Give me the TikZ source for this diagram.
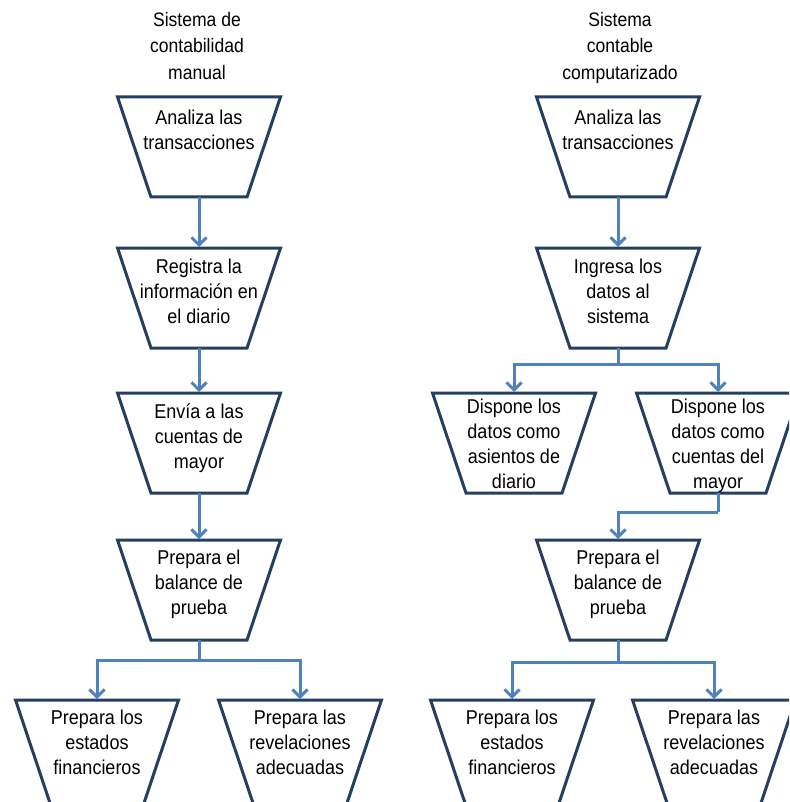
\documentclass[tikz,border=0pt]{standalone}
\usepackage{fontspec}
\setmainfont{Liberation Sans}[FakeStretch=0.9]
\usetikzlibrary{arrows.meta}
\definecolor{boxedge}{HTML}{243F60}
\definecolor{flow}{HTML}{4F81BD}
\tikzset{
  trapshape/.style={rectangle, minimum width=163pt, inner sep=0pt, outer sep=0pt},
  trapline/.style={draw=boxedge, line width=3pt, line join=miter, fill=white},
  traptext/.style={align=center, inner sep=0pt, anchor=north,
    font=\fontsize{20}{25}\selectfont},
  heading/.style={align=center, inner sep=0pt, anchor=north,
    font=\fontsize{19.5}{26.5}\selectfont},
  link/.style={draw=flow, line width=3pt},
  conn/.style={link, shorten >=1pt, -{Straight Barb[length=7.5pt,width=15pt]}},
}
% \trapbox[height]{name}{centre x}{top y}{first line drop}{text}
\newcommand\trapbox[6][100]{%
  \node[trapshape, minimum height=#1pt] (#2) at (#3,#4+#1/2) {};
  \draw[trapline] (#2.north west) -- (#2.north east)
    -- ([xshift={-0.335*#1}]#2.south east)
    -- ([xshift={0.335*#1}]#2.south west) -- cycle;
  \node[traptext] (#2-t) at ([yshift={-#5}]#2.north) {#6};
}
\begin{document}
\begin{tikzpicture}[x=1pt, y=-1pt]
  \useasboundingbox (0,0) rectangle (789,802);
  \fill[white] (0,0) rectangle (789,802);
  \clip (0,0) rectangle (789,802);

  % column headings
  \node[heading] (hl) at (197,12) {Sistema de\\contabilidad\\manual};
  \node[heading] (hr) at (620,12) {Sistema\\contable\\computarizado};

  % manual system
  \trapbox{L1}{199}{97}{13}{Analiza las\\transacciones}
  \trapbox{L2}{199}{248}{11}{Registra la\\información en\\el diario}
  \trapbox{L3}{199}{393}{11}{Envía a las\\cuentas de\\mayor}
  \trapbox{L4}{199}{540}{10}{Prepara el\\balance de\\prueba}
  \trapbox[106]{L5a}{97}{700}{10}{Prepara los\\estados\\financieros}
  \trapbox[106]{L5b}{300}{700}{10}{Prepara las\\revelaciones\\adecuadas}

  % computerised system
  \trapbox{R1}{618}{97}{13}{Analiza las\\transacciones}
  \trapbox{R2}{618}{248}{11}{Ingresa los\\datos al\\sistema}
  \trapbox{R3a}{514}{393}{6}{Dispone los\\datos como\\asientos de\\diario}
  \trapbox{R3b}{718}{393}{6}{Dispone los\\datos como\\cuentas del\\mayor}
  \trapbox{R4}{618}{540}{10}{Prepara el\\balance de\\prueba}
  \trapbox[106]{R5a}{512}{700}{10}{Prepara los\\estados\\financieros}
  \trapbox[106]{R5b}{714}{700}{10}{Prepara las\\revelaciones\\adecuadas}

  % manual flow
  \draw[conn] (L1.south) -- (L2.north);
  \draw[conn] (L2.south) -- (L3.north);
  \draw[conn] (L3.south) -- (L4.north);
  \draw[link] (L4.south) -- ++(0,20) coordinate (L4b);
  \draw[conn] (L4b) -| (L5a.north);
  \draw[conn] (L4b) -| (L5b.north);

  % computerised flow
  \draw[conn] (R1.south) -- (R2.north);
  \draw[link] (R2.south) -- ++(0,16) coordinate (R2b);
  \draw[conn] (R2b) -| (R3a.north);
  \draw[conn] (R2b) -| (R3b.north);
  \draw[link] (R3b.south) -- ++(0,19) coordinate (R3c);
  \draw[conn] (R3c) -| (R4.north);
  \draw[link] (R4.south) -- ++(0,22) coordinate (R4b);
  \draw[conn] (R4b) -| (R5a.north);
  \draw[conn] (R4b) -| (R5b.north);
\end{tikzpicture}
\end{document}
